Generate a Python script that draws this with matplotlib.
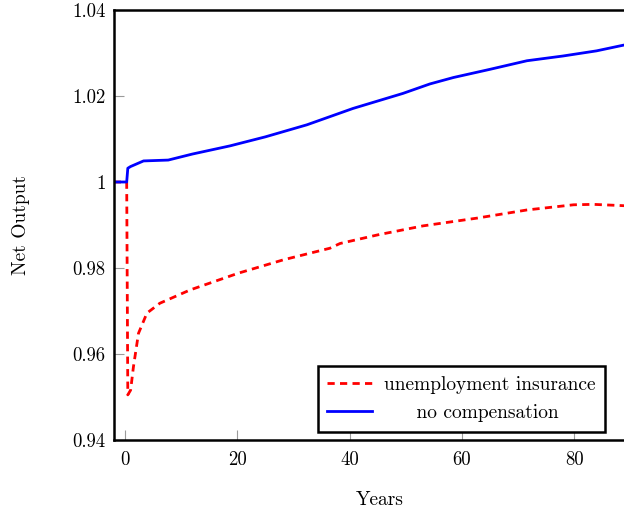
import matplotlib
matplotlib.use("Agg")
import matplotlib.pyplot as plt
from matplotlib.ticker import FuncFormatter

# computer modern look (cmr10 ships with matplotlib)
plt.rcParams['font.family'] = ['cmr10', 'DejaVu Serif']
plt.rcParams['axes.unicode_minus'] = False

# net output paths
years_nc = [-2, 0.3, 0.5, 1, 3.3, 7.7, 12, 18.7, 25, 32.4, 40.6, 49.5, 54.3, 58.5, 65, 71.6, 78, 84, 88.7, 92]
no_comp = [1.0, 1.0, 1.0032, 1.0036, 1.0049, 1.0051, 1.0065, 1.0084, 1.0105, 1.0133, 1.0171, 1.0206,
           1.0228, 1.0243, 1.0262, 1.0282, 1.0293, 1.0305, 1.0318, 1.0326]

years_ui = [-2, 0.3, 0.5, 1, 1.5, 2.4, 3.9, 6.2, 11.6, 20.2, 28.2, 36.5, 38.3, 45, 53.1, 62.7, 71.6, 79.9, 83.4, 88.7, 92]
unemp_ins = [1.0, 1.0, 0.9505, 0.9516, 0.957, 0.9648, 0.9695, 0.9718, 0.9749, 0.9788, 0.9819, 0.9846,
             0.9857, 0.9877, 0.9898, 0.9916, 0.9935, 0.9947, 0.9948, 0.9945, 0.9943]

xticks = [0, 20, 40, 60, 80]
yticks = [0.94, 0.96, 0.98, 1.0, 1.02, 1.04]

fig = plt.figure(figsize=(6.24, 5.12), dpi=100)
# axis runs past the right edge of the picture
ax = fig.add_axes([114 / 624, 72 / 512, 532 / 624, 430 / 512])

ax.plot(years_ui, unemp_ins, color='red', lw=2, dashes=(2.6, 1.9), label='unemployment insurance')
ax.plot(years_nc, no_comp, color='blue', lw=2, label='     no compensation')

ax.set_xlim(-1.96, 92.8)
ax.set_ylim(0.94, 1.04)
ax.set_xticks(xticks)
ax.set_yticks(yticks)
ax.yaxis.set_major_formatter(FuncFormatter(lambda v, p: '{:g}'.format(round(v, 4))))

for s in ax.spines.values():
    s.set_linewidth(1.8)
ax.tick_params(direction='in', length=7, width=0.8, color='#9a9a9a', labelsize=13.5)
ax.tick_params(axis='x', pad=8)
ax.tick_params(axis='y', pad=6)

ax.set_xlabel('Years', fontsize=14)
ax.set_ylabel('Net Output', fontsize=14)
ax.xaxis.set_label_coords(0.5, -0.118)
ax.yaxis.set_label_coords(-0.158, 0.5)

leg = ax.legend(loc='lower left', bbox_to_anchor=(0.383, 0.0186), borderaxespad=0,
                fancybox=False, framealpha=1, edgecolor='black', fontsize=14,
                handlelength=2.3, handletextpad=0.6, borderpad=0.5, labelspacing=0.55)
leg.get_frame().set_linewidth(1.8)

fig.savefig('out.png', dpi=100)
